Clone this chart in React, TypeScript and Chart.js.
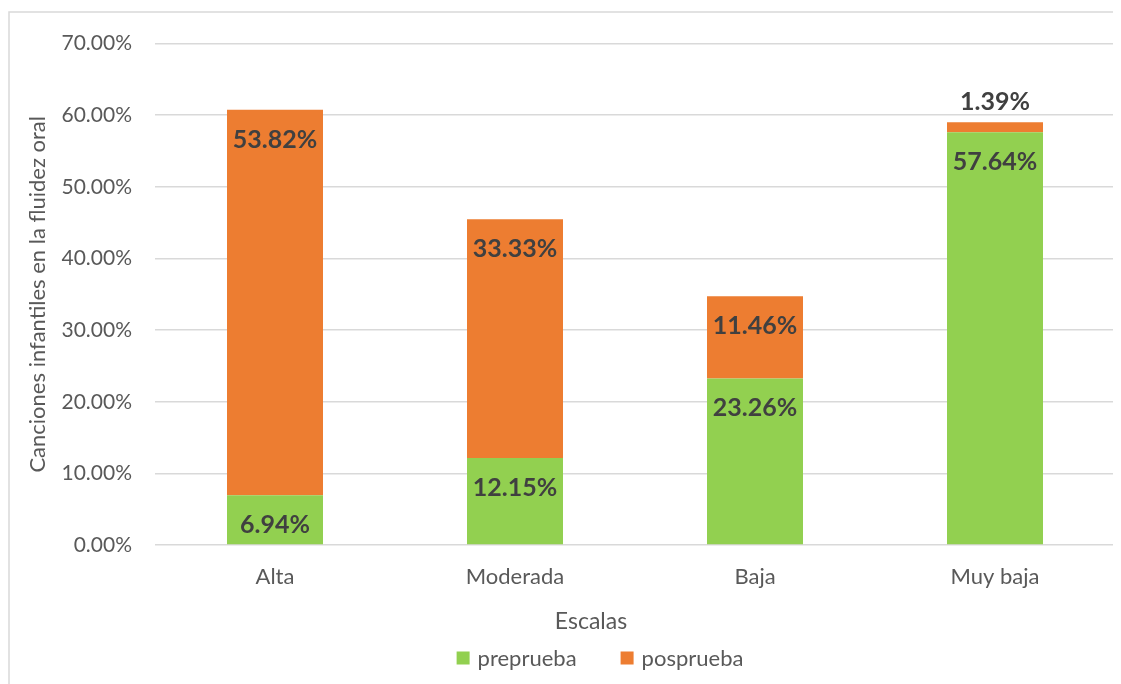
import React, { useEffect, useRef } from "react";
import { Chart, registerables } from "chart.js";

Chart.register(...registerables);

const categories = ["Alta", "Moderada", "Baja", "Muy baja"];
const preprueba = [6.94, 12.15, 23.26, 57.64];
const posprueba = [53.82, 33.33, 11.46, 1.39];
const seriesNames = ["preprueba", "posprueba"];
const seriesColors = ["#92d050", "#ed7d31"];
const xTitle = "Escalas";
const yTitle = "Canciones infantiles en la fluidez oral";

const FONT = "Lato, 'Open Sans', sans-serif";
const GRAY = "#595959";

const borderPlugin = {
  id: "chartBorder",
  beforeDraw(chart: any) {
    const ctx = chart.ctx;
    ctx.save();
    ctx.fillStyle = "#ffffff";
    ctx.fillRect(0, 0, chart.width, chart.height);
    ctx.strokeStyle = "#d9d9d9";
    ctx.lineWidth = 1.5;
    ctx.beginPath();
    ctx.moveTo(1, chart.height);
    ctx.lineTo(1, 4);
    ctx.lineTo(chart.width, 4);
    ctx.stroke();
    ctx.restore();
  },
};

const labelPlugin = {
  id: "segLabels",
  afterDatasetsDraw(chart: any) {
    const ctx = chart.ctx;
    ctx.save();
    ctx.font = `bold 25px ${FONT}`;
    ctx.fillStyle = "#404040";
    ctx.textAlign = "center";
    ctx.textBaseline = "middle";
    chart.data.datasets.forEach((ds: any, di: number) => {
      const meta = chart.getDatasetMeta(di);
      meta.data.forEach((el: any, i: number) => {
        const v = ds.data[i];
        const h = el.base - el.y;
        const txt = v.toFixed(2) + "%";
        const y = h > 40 ? el.y + 30 : el.y - 20;
        ctx.fillText(txt, el.x, y);
      });
    });
    ctx.restore();
  },
};

const footerPlugin = {
  id: "footer",
  afterDraw(chart: any) {
    const ctx = chart.ctx;
    ctx.save();
    ctx.fillStyle = GRAY;
    ctx.textBaseline = "middle";
    ctx.textAlign = "center";
    ctx.font = `23px ${FONT}`;
    ctx.fillText(xTitle, 583, 614);
    ctx.font = `22px ${FONT}`;
    const cx = 592;
    const box = 13;
    const gapBoxText = 8;
    const gapItems = 44;
    const widths = seriesNames.map((n) => ctx.measureText(n).width);
    const total =
      widths.reduce((a, w) => a + box + gapBoxText + w, 0) + gapItems * (seriesNames.length - 1);
    let x = cx - total / 2;
    const y = 650;
    ctx.textAlign = "left";
    seriesNames.forEach((n, i) => {
      ctx.fillStyle = seriesColors[i];
      ctx.fillRect(x, y - box / 2, box, box);
      ctx.fillStyle = GRAY;
      ctx.fillText(n, x + box + gapBoxText, y + 1);
      x += box + gapBoxText + widths[i] + gapItems;
    });
    ctx.restore();
  },
};

export default function App() {
  const canvasRef = useRef<HTMLCanvasElement | null>(null);

  useEffect(() => {
    if (!canvasRef.current) return;
    const chart = new Chart(canvasRef.current, {
      type: "bar",
      data: {
        labels: categories,
        datasets: [
          {
            label: seriesNames[0],
            data: preprueba,
            backgroundColor: seriesColors[0],
            barPercentage: 0.4,
            categoryPercentage: 1,
          },
          {
            label: seriesNames[1],
            data: posprueba,
            backgroundColor: seriesColors[1],
            barPercentage: 0.4,
            categoryPercentage: 1,
          },
        ],
      },
      options: {
        animation: false,
        responsive: true,
        maintainAspectRatio: false,
        layout: { padding: { left: 10, right: 6, top: 35, bottom: 0 } },
        plugins: {
          legend: { display: false },
          tooltip: { enabled: false },
        },
        scales: {
          x: {
            stacked: true,
            grid: { display: false },
            border: { display: false },
            ticks: { color: GRAY, font: { family: FONT, size: 22 }, padding: 11 },
            afterFit: (scale: any) => {
              scale.height = 139;
            },
          },
          y: {
            stacked: true,
            min: 0,
            max: 70,
            ticks: {
              stepSize: 10,
              color: GRAY,
              font: { family: FONT, size: 21 },
              padding: 23,
              callback: (v: any) => Number(v).toFixed(2) + "%",
            },
            grid: { color: "#d9d9d9", lineWidth: 1.5, drawTicks: false },
            border: { display: false },
            title: {
              display: true,
              text: yTitle,
              color: GRAY,
              font: { family: FONT, size: 22 },
              padding: { top: 7, bottom: 0 },
            },
            afterFit: (scale: any) => {
              scale.width = 137;
            },
          },
        },
      },
      plugins: [borderPlugin, labelPlugin, footerPlugin],
    });
    return () => chart.destroy();
  }, []);

  return (
    <div style={{ width: 1113, height: 676, position: "relative" }}>
      <canvas ref={canvasRef} style={{ display: "block" }} />
    </div>
  );
}
